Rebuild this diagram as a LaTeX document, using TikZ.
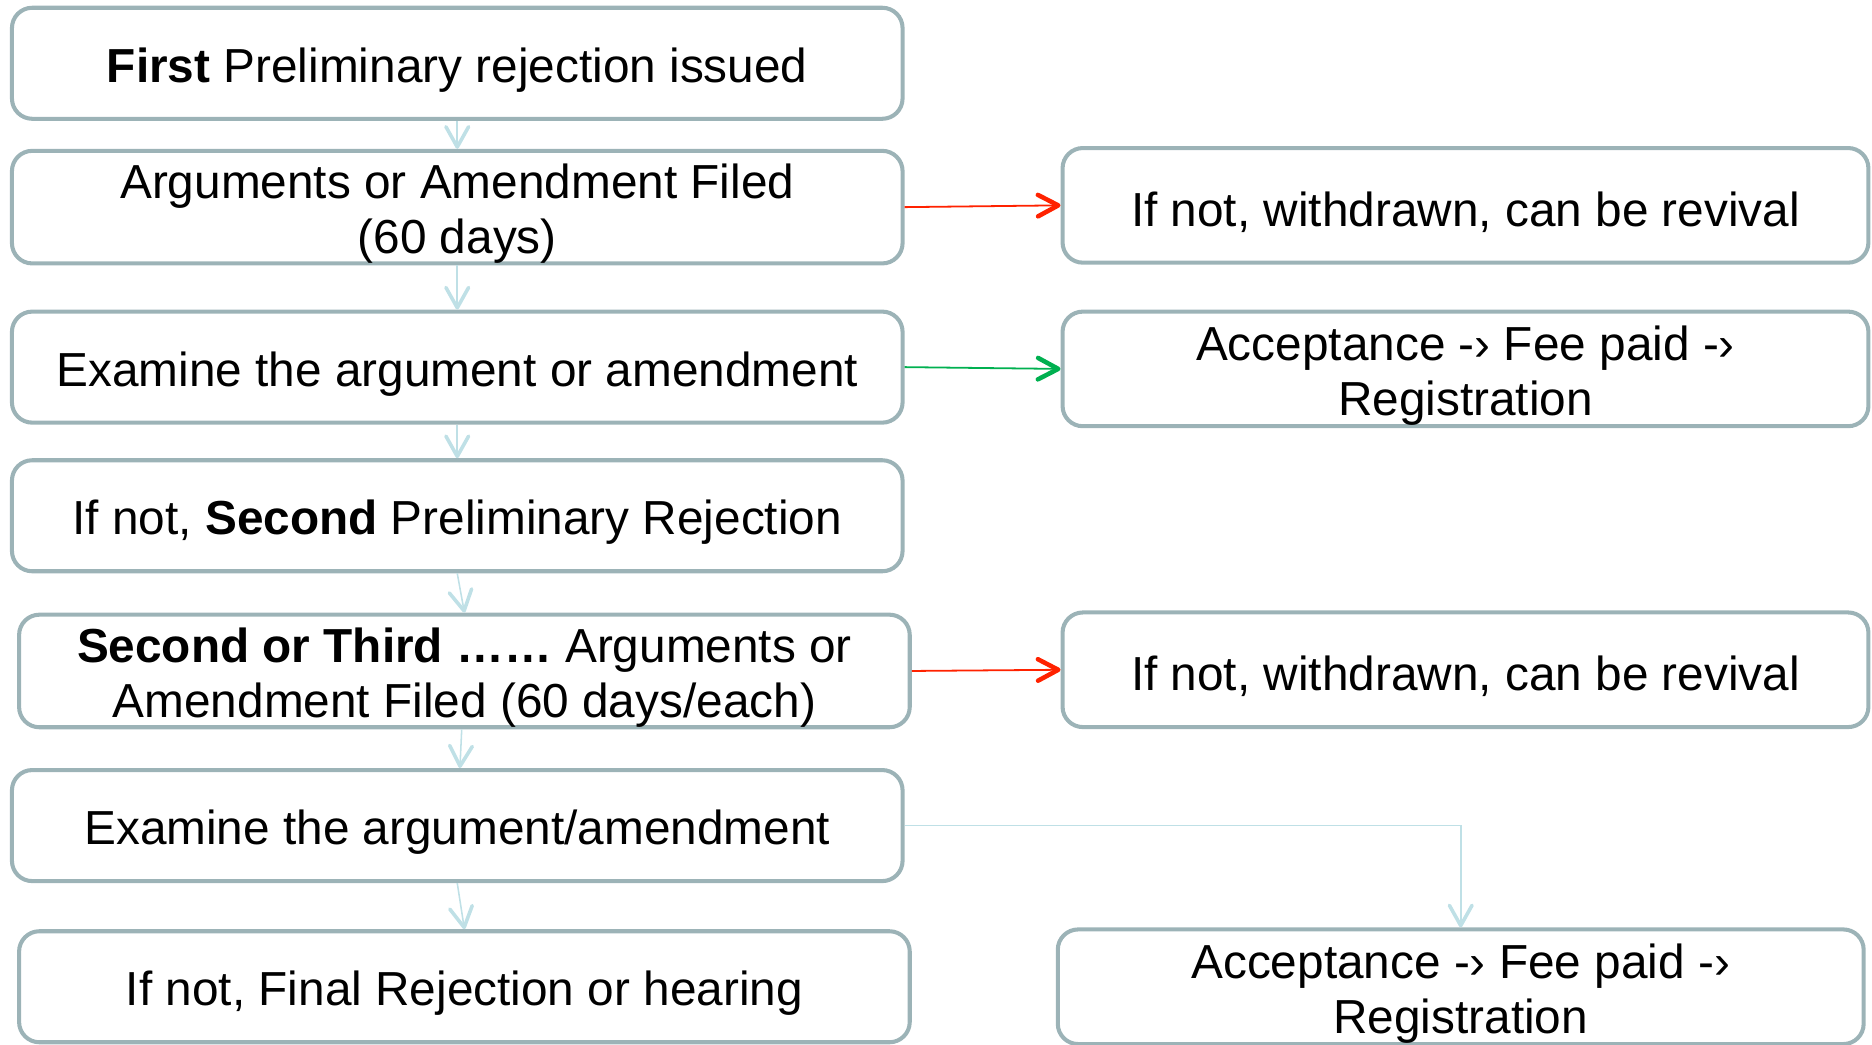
\documentclass[tikz,border=0pt]{standalone}
\usepackage{fontspec}
\setmainfont{Liberation Sans}
\usepackage{tikz}
\usetikzlibrary{calc}
\usetikzlibrary{arrows.meta}

\definecolor{boxgray}{HTML}{9CB3B7}
\definecolor{flowblue}{HTML}{BFE0E6}
\definecolor{failred}{HTML}{FF2200}
\definecolor{passgreen}{HTML}{00B050}

\newcommand{\toplift}{\rule{0pt}{40pt}}

\begin{document}
\begin{tikzpicture}[x=1pt,y=-1pt,
                stepbox/.style={draw=boxgray,line width=3.4pt,rounded corners=17pt,
                    inner sep=0pt,align=center,font=\fontsize{40}{46}\selectfont,
                    execute at begin node={\toplift}},
                leftbox/.style={stepbox,minimum width=746pt,minimum height=93pt},
                rightbox/.style={stepbox,minimum width=675pt,minimum height=96pt},
                flow/.style={draw=flowblue,line width=1.3pt,
                    -{Straight Barb[length=17pt,width=19pt,line width=3pt,round]}},
                fail/.style={draw=failred,line width=1.5pt,
                    -{Straight Barb[length=17pt,width=18pt,line width=3.8pt,round]}},
                pass/.style={draw=passgreen,line width=1.5pt,
                    -{Straight Barb[length=17pt,width=18pt,line width=3.8pt,round]}}]
                \useasboundingbox (0,0) rectangle (1568,875);

                \node[leftbox] (first) at (383,53) {\textbf{First} Preliminary rejection issued};
                \node[leftbox] (argone) at (383,173.5) {\toplift Arguments or Amendment Filed\\(60 days)};
                \node[leftbox] (examone) at (383,307.5) {Examine the argument or amendment};
                \node[leftbox] (second) at (383,432) {If not, \textbf{Second} Preliminary Rejection};
                \node[leftbox] (argmore) at (389,562) {\toplift\textbf{Second or Third ……} Arguments or\\Amendment Filed (60 days/each)};
                \node[leftbox] (examtwo) at (383,691.5) {Examine the argument/amendment};
                \node[leftbox] (final) at (389,826.5) {If not, Final Rejection or hearing};

                \node[rightbox] (revone) at (1227.5,172) {If not, withdrawn, can be revival};
                \node[rightbox] (accone) at (1227.5,309) {\toplift Acceptance -› Fee paid -›\\Registration};
                \node[rightbox] (revtwo) at (1227.5,561) {If not, withdrawn, can be revival};
                \node[rightbox] (acctwo) at (1223.5,826.5) {\toplift Acceptance -› Fee paid -›\\Registration};

                \draw[flow] (first) -- (argone);
                \draw[flow] (argone) -- (examone);
                \draw[flow] (examone) -- (second);
                \draw[flow] (second.south) -- (argmore.north);
                \draw[flow] (argmore) -- (examtwo);
                \draw[flow] (examtwo.south) -- (final.north);
                \draw[flow] (examtwo.east) -| (acctwo.north);

                \draw[fail] (argone.east) -- (revone.west);
                \draw[pass] (examone.east) -- (accone.west);
                \draw[fail] (argmore.east) -- (revtwo.west);
            \end{tikzpicture}
\end{document}
